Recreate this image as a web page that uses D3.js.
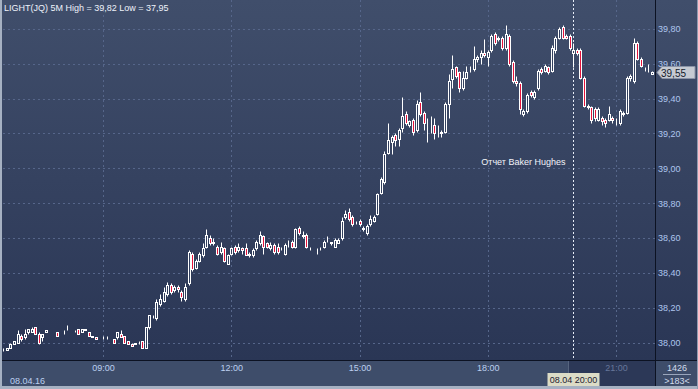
<!DOCTYPE html>
<html>
<head>
<meta charset="utf-8">
<script src="https://cdn.jsdelivr.net/npm/d3@7"></script>
<style>
html, body { margin: 0; padding: 0; background: #2e3b59; }
svg { display: block; font-family: "Liberation Sans", Arial, sans-serif; }
</style>
</head>
<body>
<svg id="chart" width="698" height="389"></svg>
<script>
// LIGHT(JQ) 5 minute candles, 08.04.2016, 06:40 .. 21:50
const firstBar = "2016-04-08 06:40";
const opens = [
  37.96,37.96,37.97,37.99,38.00,38.04,38.03,38.06,38.06,38.09,38.05,38.03,38.06,38.06,38.05,38.06,38.05,38.07,38.07,38.07,
  38.07,38.08,38.06,38.08,38.06,38.04,38.03,38.02,38.03,38.03,38.01,38.02,38.03,38.05,38.04,38.01,37.99,37.99,38.01,38.01,
  37.97,38.09,38.15,38.14,38.22,38.24,38.28,38.33,38.30,38.32,38.29,38.25,38.34,38.51,38.43,38.47,38.50,38.55,38.60,38.57,
  38.55,38.52,38.54,38.45,38.51,38.55,38.53,38.54,38.54,38.51,38.50,38.54,38.57,38.61,38.57,38.54,38.56,38.55,38.54,38.51,
  38.57,38.58,38.55,38.66,38.61,38.62,38.54,38.55,38.53,38.54,38.55,38.60,38.58,38.55,38.57,38.60,38.72,38.75,38.72,38.69,
  38.70,38.66,38.63,38.68,38.70,38.74,38.86,38.92,39.09,39.15,39.19,39.17,39.23,39.31,39.25,39.28,39.22,39.38,39.32,39.25,
  39.24,39.25,39.22,39.21,39.21,39.37,39.51,39.58,39.55,39.46,39.52,39.57,39.57,39.63,39.64,39.66,39.64,39.68,39.77,39.74,
  39.75,39.69,39.76,39.61,39.50,39.49,39.31,39.33,39.44,39.41,39.46,39.57,39.56,39.58,39.56,39.68,39.75,39.81,39.76,39.76,
  39.66,39.68,39.68,39.52,39.36,39.35,39.34,39.28,39.29,39.28,39.28,39.29,39.28,39.26,39.31,39.32,39.52,39.50,39.72,39.63,
  39.57,39.56,39.54
];
const highs = [
  37.97,37.97,38.00,38.01,38.07,38.05,38.08,38.08,38.09,38.09,38.06,38.05,38.07,38.06,38.05,38.06,38.05,38.07,38.10,38.07,
  38.07,38.08,38.08,38.08,38.06,38.04,38.03,38.02,38.04,38.04,38.01,38.02,38.06,38.07,38.04,38.01,38.00,38.00,38.01,38.01,
  38.09,38.16,38.16,38.25,38.28,38.32,38.35,38.34,38.33,38.33,38.30,38.34,38.53,38.52,38.48,38.52,38.57,38.65,38.62,38.60,
  38.56,38.58,38.55,38.51,38.55,38.56,38.57,38.55,38.57,38.52,38.54,38.59,38.64,38.62,38.58,38.58,38.57,38.57,38.55,38.57,
  38.59,38.59,38.66,38.67,38.64,38.63,38.55,38.55,38.54,38.55,38.59,38.61,38.58,38.60,38.60,38.72,38.76,38.77,38.73,38.70,
  38.71,38.67,38.68,38.73,38.73,38.86,38.95,39.10,39.26,39.19,39.20,39.23,39.41,39.33,39.28,39.29,39.39,39.44,39.33,39.29,
  39.30,39.29,39.25,39.22,39.38,39.54,39.65,39.59,39.56,39.56,39.59,39.59,39.70,39.65,39.68,39.74,39.68,39.77,39.78,39.76,
  39.76,39.82,39.77,39.62,39.53,39.50,39.34,39.43,39.45,39.45,39.57,39.58,39.60,39.59,39.71,39.76,39.81,39.82,39.77,39.77,
  39.72,39.69,39.69,39.53,39.37,39.36,39.35,39.35,39.30,39.29,39.36,39.30,39.29,39.34,39.33,39.53,39.54,39.75,39.73,39.64,
  39.58,39.60,39.56
];
const lows = [
  37.95,37.96,37.97,37.99,38.00,38.01,38.02,38.05,38.06,38.05,37.99,38.01,38.06,38.06,38.05,38.04,38.05,38.05,38.07,38.07,
  38.06,38.05,38.06,38.07,38.04,38.03,38.02,38.02,38.02,38.02,38.01,38.00,38.02,38.03,38.00,37.99,37.98,37.99,37.99,37.97,
  37.97,38.08,38.14,38.13,38.21,38.23,38.27,38.28,38.29,38.29,38.24,38.24,38.33,38.41,38.42,38.46,38.49,38.54,38.56,38.56,
  38.50,38.51,38.46,38.45,38.50,38.51,38.52,38.51,38.50,38.49,38.49,38.53,38.56,38.51,38.54,38.53,38.51,38.51,38.53,38.50,
  38.55,38.54,38.54,38.62,38.60,38.54,38.53,38.55,38.51,38.53,38.54,38.58,38.56,38.55,38.57,38.59,38.71,38.70,38.67,38.68,
  38.67,38.64,38.62,38.67,38.69,38.73,38.85,38.91,39.08,39.08,39.13,39.13,39.21,39.25,39.24,39.19,39.21,39.30,39.22,39.15,
  39.20,39.17,39.18,39.18,39.20,39.29,39.46,39.52,39.44,39.45,39.51,39.55,39.56,39.61,39.60,39.64,39.59,39.67,39.71,39.73,
  39.68,39.68,39.59,39.49,39.47,39.31,39.30,39.32,39.41,39.40,39.45,39.54,39.55,39.54,39.55,39.66,39.74,39.74,39.74,39.68,
  39.58,39.65,39.51,39.35,39.34,39.26,39.27,39.27,39.25,39.24,39.27,39.26,39.25,39.25,39.30,39.31,39.50,39.49,39.62,39.58,
  39.56,39.55,39.54
];
const closes = [
  37.96,37.97,37.99,38.01,38.05,38.02,38.05,38.08,38.08,38.05,38.00,38.05,38.07,38.06,38.05,38.04,38.05,38.07,38.07,38.07,
  38.07,38.05,38.08,38.07,38.04,38.03,38.02,38.02,38.03,38.03,38.01,38.00,38.06,38.03,38.00,37.99,37.98,38.00,38.01,37.97,
  38.09,38.16,38.15,38.23,38.25,38.29,38.33,38.29,38.32,38.31,38.26,38.32,38.52,38.42,38.47,38.51,38.54,38.62,38.57,38.58,
  38.51,38.55,38.47,38.50,38.54,38.52,38.55,38.53,38.50,38.50,38.53,38.58,38.62,38.55,38.55,38.56,38.52,38.52,38.54,38.56,
  38.57,38.55,38.65,38.63,38.62,38.55,38.54,38.55,38.53,38.54,38.58,38.60,38.57,38.59,38.59,38.70,38.74,38.71,38.68,38.69,
  38.68,38.65,38.67,38.71,38.72,38.85,38.94,39.08,39.16,39.18,39.16,39.22,39.30,39.26,39.27,39.21,39.37,39.31,39.26,39.25,
  39.24,39.20,39.22,39.20,39.37,39.50,39.57,39.53,39.46,39.52,39.55,39.57,39.63,39.64,39.66,39.65,39.67,39.76,39.72,39.75,
  39.69,39.77,39.60,39.50,39.49,39.34,39.33,39.42,39.42,39.44,39.56,39.55,39.59,39.55,39.69,39.75,39.80,39.75,39.75,39.69,
  39.68,39.66,39.52,39.36,39.35,39.28,39.29,39.34,39.27,39.26,39.31,39.28,39.28,39.33,39.32,39.52,39.53,39.72,39.63,39.59,
  39.57,39.56,39.55
];

const yTicks = [38.00, 38.20, 38.40, 38.60, 38.80, 39.00, 39.20, 39.40, 39.60, 39.80];
const xTickLabels = ["09:00", "12:00", "15:00", "18:00", "21:00"];
const day = "2016-04-08";
const cursorTime = "20:00";
const lastPrice = 39.55;
const title = "LIGHT(JQ) 5M High = 39,82 Low = 37,95";
const note = "Отчет Baker Hughes";

const svg = d3.select("#chart");
const W = 698, H = 389;
const plotL = 3, plotR = 655, plotT = 0, plotB = 360;

const parse = d3.timeParse("%Y-%m-%d %H:%M");
const parseS = d3.timeParse("%Y-%m-%d %H:%M:%S");
const t0 = parse(firstBar);

const bars = opens.map((o, i) => ({
  t: d3.timeMinute.offset(t0, 5 * i),
  o: o, h: highs[i], l: lows[i], c: closes[i]
}));

const x = d3.scaleTime()
  .domain([parseS(day + " 06:39:36"), parseS(day + " 21:54:42")])
  .range([plotL, plotR]);
const y = d3.scaleLinear()
  .domain([37.90, 39.966])
  .range([plotB, plotT]);

const ru = d3.formatLocale({decimal: ",", thousands: " ", grouping: [3], currency: ["", ""]});
const fmt = ru.format(".2f");

// background
const defs = svg.append("defs");
const grad = defs.append("linearGradient")
  .attr("id", "bg").attr("x1", 0).attr("y1", 0).attr("x2", 0).attr("y2", 1);
grad.append("stop").attr("offset", "0%").attr("stop-color", "#404e6b");
grad.append("stop").attr("offset", "100%").attr("stop-color", "#2a3655");

svg.append("rect")
  .attr("x", 0).attr("y", 0).attr("width", W).attr("height", plotB)
  .attr("fill", "url(#bg)");

// bottom strip
svg.append("rect")
  .attr("x", 0).attr("y", plotB).attr("width", W).attr("height", H - plotB)
  .attr("fill", "#3e4d6a");

const cx = Math.round(x(parse(day + " " + cursorTime))) + 0.5;

svg.append("rect")
  .attr("x", cx - 5).attr("y", plotB).attr("width", plotR - cx + 5).attr("height", H - plotB)
  .attr("fill", "#2c3857");
svg.append("line")
  .attr("x1", cx - 5).attr("x2", cx - 5).attr("y1", plotB).attr("y2", H)
  .attr("stroke", "#56647e");

// grid
const grid = svg.append("g").attr("class", "grid");
grid.selectAll("line.h")
  .data(yTicks)
  .enter().append("line")
  .attr("class", "h")
  .attr("x1", plotL).attr("x2", plotR)
  .attr("y1", d => Math.round(y(d)) + 0.5)
  .attr("y2", d => Math.round(y(d)) + 0.5)
  .attr("stroke", "#56668a")
  .attr("stroke-dasharray", "2,3");

grid.selectAll("line.v")
  .data(xTickLabels)
  .enter().append("line")
  .attr("class", "v")
  .attr("x1", d => Math.round(x(parse(day + " " + d))) + 0.5)
  .attr("x2", d => Math.round(x(parse(day + " " + d))) + 0.5)
  .attr("y1", plotT).attr("y2", plotB)
  .attr("stroke", "#56668a")
  .attr("stroke-dasharray", "2,3");

// cursor line
svg.append("line")
  .attr("x1", cx).attr("x2", cx)
  .attr("y1", plotT).attr("y2", plotB)
  .attr("stroke", "#e6ecf6")
  .attr("stroke-dasharray", "2,2");

// candles
const candles = svg.append("g").attr("class", "candles");
const px = d => Math.round(x(d.t)) + 0.5;
const py = v => Math.round(y(v)) + 0.5;

candles.selectAll("line.wick")
  .data(bars)
  .enter().append("line")
  .attr("class", "wick")
  .attr("x1", px).attr("x2", px)
  .attr("y1", d => py(d.h)).attr("y2", d => py(d.l))
  .attr("stroke", "#ffffff");

candles.selectAll("rect.body")
  .data(bars)
  .enter().append("rect")
  .attr("class", "body")
  .attr("x", d => px(d) - 1)
  .attr("y", d => py(Math.max(d.o, d.c)))
  .attr("width", 2)
  .attr("height", d => py(Math.min(d.o, d.c)) - py(Math.max(d.o, d.c)))
  .attr("fill", d => d.c < d.o ? "#e4143c" : "#33405e")
  .attr("stroke", "#ffffff");

// frame lines
svg.append("line")
  .attr("x1", 0).attr("x2", W).attr("y1", plotB + 0.5).attr("y2", plotB + 0.5)
  .attr("stroke", "#0c1222");
svg.append("line")
  .attr("x1", plotR + 0.5).attr("x2", plotR + 0.5).attr("y1", 0).attr("y2", H - 3)
  .attr("stroke", "#0c1222");

// price axis
const yAxis = d3.axisRight(y)
  .tickValues(yTicks)
  .tickSize(0)
  .tickPadding(3)
  .tickFormat(fmt);
const gy = svg.append("g")
  .attr("transform", `translate(${plotR},0)`)
  .call(yAxis);
gy.select(".domain").remove();
gy.selectAll("text")
  .attr("fill", "#aec6ee")
  .style("font-size", "9px")
  .style("font-family", "'Liberation Sans', Arial, sans-serif");

// time axis
const xAxis = d3.axisBottom(x)
  .tickValues(xTickLabels.map(d => parse(day + " " + d)))
  .tickSize(0)
  .tickPadding(5)
  .tickFormat(d3.timeFormat("%H:%M"));
const gx = svg.append("g")
  .attr("transform", `translate(0,${plotB})`)
  .call(xAxis);
gx.select(".domain").remove();
gx.selectAll("text")
  .attr("fill", d => x(d) > cx ? "#66769a" : "#bcd0f0")
  .style("font-size", "9px")
  .style("font-family", "'Liberation Sans', Arial, sans-serif");

svg.append("text")
  .attr("x", 10).attr("y", 384)
  .attr("fill", "#bcd0f0")
  .style("font-size", "9px")
  .text(d3.timeFormat("%d.%m.%y")(t0));

// cursor label
const cursorLabel = d3.timeFormat("%d.%m %H:%M")(parse(day + " " + cursorTime));
svg.append("rect")
  .attr("x", cx - 26).attr("y", 373).attr("width", 52).attr("height", 13)
  .attr("fill", "#dcdcc6");
svg.append("text")
  .attr("x", cx).attr("y", 383)
  .attr("text-anchor", "middle")
  .attr("fill", "#1c2030")
  .style("font-size", "9px")
  .text(cursorLabel);

// annotation
svg.append("text")
  .attr("x", cx - 8).attr("y", 165)
  .attr("text-anchor", "end")
  .attr("fill", "#f2f4fa")
  .style("font-size", "9px")
  .text(note);

// last price marker
const lp = Math.round(y(lastPrice)) + 0.5;
svg.append("path")
  .attr("d", `M${plotR + 2},${lp} L${plotR + 7},${lp - 6} L${W - 3},${lp - 6} L${W - 3},${lp + 6} L${plotR + 7},${lp + 6} Z`)
  .attr("fill", "#c6cad2")
  .attr("stroke", "#8a93a6");
svg.append("text")
  .attr("x", plotR + 6).attr("y", lp + 4)
  .attr("fill", "#141a2a")
  .style("font-size", "10px")
  .text(fmt(lastPrice));

// bar counter box
svg.append("text")
  .attr("x", 677).attr("y", 371)
  .attr("text-anchor", "middle")
  .attr("fill", "#d2dcec")
  .style("font-size", "9px")
  .text("1426");
svg.append("line")
  .attr("x1", 663).attr("x2", 691).attr("y1", 374.5).attr("y2", 374.5)
  .attr("stroke", "#9aa6bc");
svg.append("text")
  .attr("x", 677).attr("y", 384)
  .attr("text-anchor", "middle")
  .attr("fill", "#d2dcec")
  .style("font-size", "9px")
  .text(">" + bars.length + "<");

// title
svg.append("text")
  .attr("x", 4).attr("y", 11)
  .attr("fill", "#eef2fa")
  .style("font-size", "9px")
  .text(title);

// outer frame
svg.append("rect")
  .attr("x", 0).attr("y", H - 3).attr("width", W).attr("height", 3)
  .attr("fill", "#a6b1c2");
svg.append("rect")
  .attr("x", 0).attr("y", 0).attr("width", 2).attr("height", H)
  .attr("fill", "#a6b1c2");
svg.append("rect")
  .attr("x", W - 1).attr("y", 0).attr("width", 1).attr("height", H)
  .attr("fill", "#8f9bb0");
</script>
</body>
</html>
